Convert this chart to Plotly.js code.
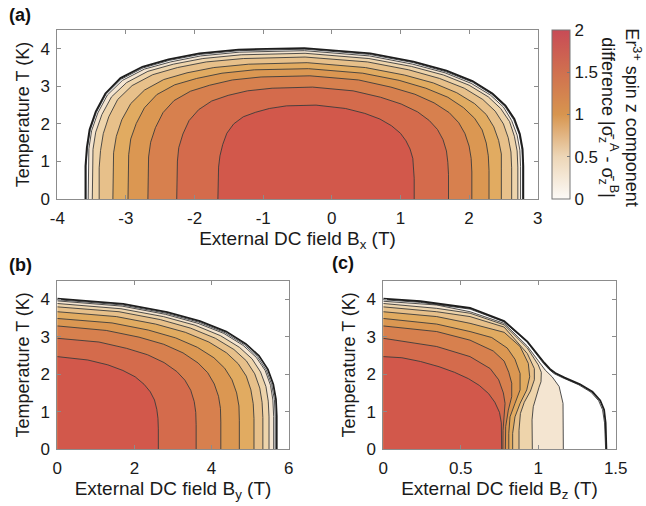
<!DOCTYPE html>
<html>
<head>
<meta charset="utf-8">
<script src="https://cdn.plot.ly/plotly-3.0.1.min.js"></script>
<style>html,body{margin:0;padding:0;background:#fff;}#chart{width:646px;height:506px;}</style>
</head>
<body>
<div id="chart"></div>
<script>
// ---- data ----
const levels = [0, 0.2, 0.4, 0.6, 0.8, 1.0, 1.2, 1.4, 1.6, 1.8];

// Panel (a): contour paths, B_x field (T) and temperature (K), left foot -> top -> right foot
const aField = [
  [-3.59,-3.59,-3.57,-3.53,-3.44,-3.30,-3.08,-2.76,-2.38,-1.93,-1.36,-0.40,0.56,1.19,1.67,2.05,2.34,2.53,2.66,2.74,2.78,2.79,2.79],
  [-3.58,-3.58,-3.56,-3.52,-3.43,-3.29,-3.07,-2.75,-2.37,-1.92,-1.35,-0.40,0.55,1.19,1.66,2.05,2.33,2.52,2.65,2.73,2.77,2.78,2.78],
  [-3.55,-3.55,-3.54,-3.50,-3.41,-3.27,-3.05,-2.73,-2.35,-1.91,-1.35,-0.40,0.55,1.18,1.65,2.03,2.31,2.50,2.62,2.70,2.74,2.75,2.75],
  [-3.49,-3.49,-3.48,-3.44,-3.35,-3.21,-2.99,-2.68,-2.31,-1.88,-1.32,-0.39,0.54,1.16,1.63,2.00,2.28,2.46,2.59,2.66,2.70,2.71,2.71],
  [-3.39,-3.39,-3.37,-3.33,-3.25,-3.12,-2.91,-2.61,-2.25,-1.83,-1.29,-0.39,0.52,1.12,1.57,1.93,2.20,2.38,2.50,2.57,2.61,2.62,2.62],
  [-3.19,-3.19,-3.18,-3.14,-3.06,-2.93,-2.73,-2.45,-2.11,-1.72,-1.21,-0.36,0.49,1.06,1.48,1.82,2.08,2.25,2.36,2.43,2.47,2.47,2.47],
  [-2.97,-2.97,-2.96,-2.93,-2.85,-2.73,-2.55,-2.29,-1.97,-1.60,-1.13,-0.34,0.45,0.98,1.37,1.69,1.92,2.08,2.19,2.25,2.28,2.29,2.29],
  [-2.68,-2.68,-2.67,-2.64,-2.57,-2.46,-2.30,-2.06,-1.78,-1.45,-1.03,-0.32,0.39,0.86,1.21,1.49,1.71,1.85,1.94,2.00,2.03,2.04,2.04],
  [-2.26,-2.26,-2.25,-2.23,-2.17,-2.08,-1.94,-1.75,-1.51,-1.23,-0.87,-0.28,0.31,0.71,1.01,1.25,1.42,1.54,1.62,1.67,1.69,1.70,1.70],
  [-1.66,-1.66,-1.65,-1.63,-1.59,-1.53,-1.43,-1.29,-1.11,-0.91,-0.66,-0.23,0.20,0.48,0.70,0.87,1.00,1.08,1.14,1.18,1.19,1.20,1.20]
];
const aTemp = [
  [0,0.88,1.37,1.85,2.33,2.81,3.22,3.52,3.72,3.88,3.98,4.02,3.88,3.66,3.42,3.14,2.81,2.49,2.13,1.73,1.33,0.88,0],
  [0,0.88,1.36,1.84,2.31,2.79,3.19,3.49,3.69,3.85,3.95,3.99,3.85,3.63,3.39,3.11,2.79,2.47,2.11,1.72,1.32,0.88,0],
  [0,0.87,1.34,1.82,2.29,2.77,3.16,3.46,3.65,3.81,3.91,3.95,3.81,3.59,3.36,3.08,2.77,2.45,2.09,1.70,1.30,0.87,0],
  [0,0.85,1.32,1.78,2.25,2.72,3.10,3.40,3.59,3.74,3.84,3.88,3.74,3.53,3.30,3.03,2.72,2.41,2.06,1.67,1.28,0.85,0],
  [0,0.83,1.29,1.74,2.19,2.65,3.02,3.31,3.50,3.65,3.74,3.78,3.65,3.44,3.21,2.95,2.65,2.34,2.00,1.63,1.25,0.83,0],
  [0,0.80,1.23,1.67,2.11,2.54,2.90,3.18,3.36,3.50,3.59,3.63,3.50,3.30,3.09,2.83,2.54,2.25,1.92,1.56,1.20,0.80,0],
  [0,0.76,1.18,1.60,2.01,2.43,2.78,3.04,3.21,3.35,3.44,3.47,3.35,3.16,2.95,2.71,2.43,2.15,1.84,1.49,1.15,0.76,0],
  [0,0.72,1.12,1.51,1.90,2.30,2.62,2.87,3.03,3.17,3.25,3.28,3.17,2.98,2.79,2.56,2.30,2.03,1.74,1.41,1.08,0.72,0],
  [0,0.66,1.01,1.37,1.73,2.09,2.38,2.61,2.76,2.88,2.95,2.98,2.88,2.71,2.53,2.32,2.09,1.85,1.58,1.28,0.98,0.66,0],
  [0,0.55,0.85,1.15,1.45,1.75,2.00,2.19,2.31,2.41,2.48,2.50,2.41,2.28,2.13,1.95,1.75,1.55,1.33,1.08,0.83,0.55,0]
];

// Panel (b): B_y field, top (B=0) -> foot (T=0)
const bField = [
  [0,1.71,2.85,3.70,4.38,4.89,5.23,5.46,5.60,5.67,5.69,5.69],
  [0,1.69,2.82,3.67,4.35,4.85,5.19,5.42,5.56,5.63,5.65,5.65],
  [0,1.68,2.81,3.65,4.32,4.82,5.16,5.39,5.53,5.59,5.61,5.61],
  [0,1.65,2.75,3.57,4.23,4.72,5.05,5.27,5.41,5.47,5.49,5.49],
  [0,1.60,2.67,3.46,4.10,4.58,4.90,5.12,5.25,5.31,5.33,5.33],
  [0,1.53,2.55,3.32,3.93,4.39,4.69,4.90,5.02,5.08,5.10,5.10],
  [0,1.42,2.36,3.07,3.63,4.06,4.34,4.53,4.65,4.71,4.72,4.72],
  [0,1.27,2.12,2.76,3.26,3.65,3.90,4.07,4.18,4.23,4.24,4.24],
  [0,1.08,1.80,2.34,2.77,3.10,3.31,3.46,3.55,3.59,3.60,3.60],
  [0,0.79,1.31,1.70,2.02,2.25,2.41,2.52,2.58,2.61,2.62,2.62]
];
const bTemp = [
  [4.02,3.88,3.66,3.42,3.14,2.81,2.49,2.13,1.73,1.33,0.88,0],
  [3.99,3.85,3.63,3.39,3.11,2.79,2.47,2.11,1.72,1.32,0.88,0],
  [3.96,3.82,3.60,3.36,3.09,2.77,2.45,2.10,1.70,1.31,0.87,0],
  [3.89,3.75,3.54,3.31,3.03,2.72,2.41,2.06,1.67,1.28,0.86,0],
  [3.80,3.67,3.46,3.23,2.96,2.66,2.36,2.01,1.63,1.25,0.84,0],
  [3.67,3.54,3.34,3.12,2.86,2.57,2.28,1.95,1.58,1.21,0.81,0],
  [3.49,3.37,3.18,2.97,2.72,2.44,2.16,1.85,1.50,1.15,0.77,0],
  [3.29,3.17,2.99,2.80,2.57,2.30,2.04,1.74,1.41,1.09,0.72,0],
  [2.96,2.86,2.69,2.52,2.31,2.07,1.84,1.57,1.27,0.98,0.65,0],
  [2.47,2.38,2.25,2.10,1.93,1.73,1.53,1.31,1.06,0.82,0.54,0]
];

// Panel (c): B_z field, top (B=0) -> foot (T=0)
const cField = [
  [0,0.24,0.56,0.78,0.93,1.00,1.04,1.075,1.11,1.17,1.27,1.35,1.40,1.425,1.435,1.44],
  [0,0.24,0.56,0.78,0.93,1.00,1.035,1.07,1.10,1.16,1.26,1.34,1.39,1.415,1.428,1.435],
  [0,0.345,0.56,0.78,0.93,1.00,1.045,1.09,1.135,1.16,1.162],
  [0,0.345,0.56,0.78,0.93,1.00,1.02,1.018,1.005,0.99,0.968,0.96,0.962],
  [0,0.345,0.56,0.78,0.93,0.975,0.975,0.95,0.91,0.885,0.876,0.876],
  [0,0.345,0.56,0.78,0.883,0.936,0.945,0.926,0.883,0.85,0.835,0.835],
  [0,0.345,0.56,0.70,0.80,0.85,0.883,0.883,0.85,0.818,0.81,0.81],
  [0,0.345,0.56,0.71,0.78,0.81,0.829,0.829,0.807,0.79,0.788],
  [0,0.345,0.56,0.69,0.745,0.775,0.786,0.78,0.773,0.772],
  [0,0.12,0.24,0.36,0.46,0.55,0.62,0.68,0.72,0.75,0.762,0.764,0.764]
];
const cTemp = [
  [4.02,3.95,3.77,3.42,2.87,2.50,2.30,2.14,2.03,1.91,1.73,1.53,1.30,1.05,0.70,0],
  [3.99,3.92,3.74,3.40,2.85,2.48,2.28,2.13,2.02,1.90,1.72,1.52,1.29,1.05,0.70,0],
  [3.95,3.85,3.67,3.36,2.75,2.36,2.11,1.93,1.67,1.22,0],
  [3.89,3.76,3.63,3.32,2.70,2.25,2.05,1.80,1.65,1.44,1.13,0.78,0],
  [3.80,3.67,3.54,3.26,2.55,2.15,1.85,1.55,1.25,0.95,0.50,0],
  [3.67,3.54,3.36,3.12,2.74,2.29,1.93,1.58,1.22,0.86,0.42,0],
  [3.49,3.34,3.14,2.98,2.70,2.40,2.02,1.58,1.22,0.86,0.42,0],
  [3.29,3.14,2.91,2.62,2.35,2.05,1.76,1.40,1.04,0.60,0],
  [2.96,2.74,2.47,2.15,1.85,1.50,1.22,0.85,0.50,0],
  [2.47,2.44,2.34,2.20,2.05,1.88,1.70,1.48,1.25,0.98,0.70,0.40,0]
];

const aXTickVals = [-4,-3,-2,-1,0,1,2,3];
const aXTickText = ['-4','-3','-2','-1','0','1','2','3'];
const bXTickVals = [0,2,4,6];
const bXTickText = ['0','2','4','6'];
const cXTickVals = [0,0.5,1,1.5];
const cXTickText = ['0','0.5','1','1.5'];
const tTickVals = [0,1,2,3,4];
const tTickText = ['0','1','2','3','4'];
const cbTickVals = [0,0.5,1,1.5,2];
const cbTickText = ['0','0.5','1','1.5','2'];

// ---- style ----
const bandColors = ['#ffffff','#ffffff','#f4e5d1','#eed4ab','#e7c08a','#e1ab61','#db9752','#d7804e','#d46b4c','#d2584b'];
const FONT = 'Liberation Sans, Arial, Helvetica, sans-serif';
const lineColor = '#3c3c3c';

const traces = [];
function addPanel(fields, temps, xa, ya, fillMode) {
  for (let i = 0; i < levels.length; i++) {
    traces.push({type:'scatter', mode:'lines', x:fields[i], y:temps[i], xaxis:xa, yaxis:ya,
      fill:fillMode, fillcolor:bandColors[i], line:{width:0, color:bandColors[i]},
      hoverinfo:'skip', showlegend:false, name:'level '+levels[i]});
  }
  for (let i = levels.length - 1; i >= 0; i--) {
    traces.push({type:'scatter', mode:'lines', x:fields[i], y:temps[i], xaxis:xa, yaxis:ya,
      line:{width: i === 0 ? 1.8 : 0.9, color: i === 0 ? '#1e1e1e' : lineColor},
      hoverinfo:'skip', showlegend:false, name:'contour '+levels[i]});
  }
}
addPanel(aField, aTemp, 'x', 'y', 'toself');
addPanel(bField, bTemp, 'x2', 'y2', 'tozerox');
addPanel(cField, cTemp, 'x3', 'y3', 'tozerox');

// colour bar
traces.push({type:'scatter', mode:'markers', x:[null], y:[null], xaxis:'x', yaxis:'y',
  hoverinfo:'skip', showlegend:false,
  marker:{color:[0], cmin:0, cmax:2, showscale:true,
    colorscale:[[0,'#fcfaf7'],[0.25,'#edd6b7'],[0.5,'#d7954f'],[0.75,'#d0704f'],[1,'#c84b56']],
    colorbar:{x:0.854, xanchor:'left', y:0.7737, yanchor:'middle', len:169, lenmode:'pixels',
      thickness:18, thicknessmode:'pixels', xpad:0, ypad:0, outlinecolor:'#777', outlinewidth:1,
      tickvals:cbTickVals, ticktext:cbTickText, ticks:'inside', ticklen:3, tickcolor:'#777',
      tickfont:{size:17, color:'#1a1a1a', family:FONT}}}
});

function axis(extra) {
  return Object.assign({showline:true, linecolor:'#8c8c8c', linewidth:1, mirror:'ticks',
    ticks:'inside', ticklen:4, tickcolor:'#8c8c8c', showgrid:false, zeroline:false,
    tickmode:'array', tickfont:{size:17, color:'#1a1a1a', family:FONT}, fixedrange:true}, extra);
}
const xTitleFont = {size:19, color:'#1a1a1a', family:FONT};
const yTitleFont = {size:18, color:'#1a1a1a', family:FONT};

const layout = {
  width:646, height:506, margin:{l:0, r:0, t:0, b:0},
  paper_bgcolor:'#ffffff', plot_bgcolor:'#ffffff', showlegend:false,
  font:{family:FONT, color:'#1a1a1a'},
  xaxis: axis({domain:[0.0887,0.8324], anchor:'y', range:[-4,3], tickvals:aXTickVals, ticktext:aXTickText,
    ticklabelstandoff:4, title:{text:'External DC field B<sub>x</sub> (T)', font:xTitleFont, standoff:2}}),
  yaxis: axis({domain:[0.6067,0.9407], anchor:'x', range:[0,4.5], tickvals:tTickVals, ticktext:tTickText,
    ticklabelstandoff:3, title:{text:'Temperature T (K)', font:yTitleFont, standoff:6}}),
  xaxis2: axis({domain:[0.0887,0.4469], anchor:'y2', range:[0,6], tickvals:bXTickVals, ticktext:bXTickText,
    ticklabelstandoff:4, title:{text:'External DC field B<sub>y</sub> (T)', font:xTitleFont, standoff:2}}),
  yaxis2: axis({domain:[0.1126,0.4453], anchor:'x2', range:[0,4.5], tickvals:tTickVals, ticktext:tTickText,
    ticklabelstandoff:3, title:{text:'Temperature T (K)', font:yTitleFont, standoff:6}}),
  xaxis3: axis({domain:[0.5933,0.9531], anchor:'y3', range:[0,1.5], tickvals:cXTickVals, ticktext:cXTickText,
    ticklabelstandoff:4, title:{text:'External DC field B<sub>z</sub> (T)', font:xTitleFont, standoff:2}}),
  yaxis3: axis({domain:[0.1126,0.4453], anchor:'x3', range:[0,4.5], tickvals:tTickVals, ticktext:tTickText,
    ticklabelstandoff:3, title:{text:'Temperature T (K)', font:yTitleFont, standoff:6}}),
  annotations: [
    {xref:'paper', yref:'paper', x:0.0108, y:0.970, xanchor:'left', yanchor:'middle', showarrow:false,
      text:'<b>(a)</b>', font:{size:18, color:'#111', family:FONT}},
    {xref:'paper', yref:'paper', x:0.0108, y:0.476, xanchor:'left', yanchor:'middle', showarrow:false,
      text:'<b>(b)</b>', font:{size:18, color:'#111', family:FONT}},
    {xref:'paper', yref:'paper', x:0.511, y:0.480, xanchor:'left', yanchor:'middle', showarrow:false,
      text:'<b>(c)</b>', font:{size:18, color:'#111', family:FONT}},
    {xref:'paper', yref:'paper', x:0.959, y:0.769, xanchor:'center', yanchor:'middle', showarrow:false,
      textangle:90, align:'center',
      text:'Er<sup>3+</sup> spin z component<br>difference |σ̄<sub>z</sub><sup>A</sup> - σ̄<sub>z</sub><sup>B</sup>|',
      font:{size:18, color:'#1a1a1a', family:FONT}}
  ]
};

Plotly.newPlot('chart', traces, layout, {staticPlot:true, displayModeBar:false});
</script>
</body>
</html>
